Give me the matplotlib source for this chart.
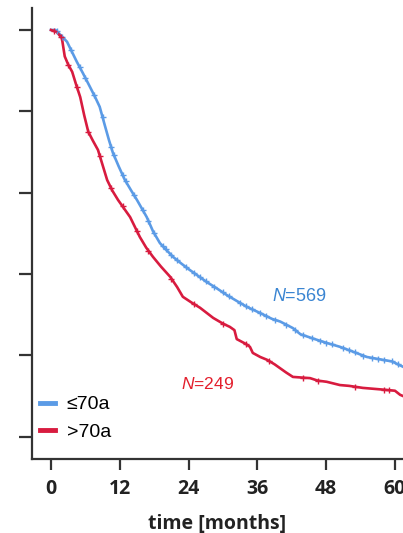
import numpy as np
import matplotlib
matplotlib.use("Agg")
import matplotlib.pyplot as plt

plt.rcParams["mathtext.fontset"] = "custom"
plt.rcParams["mathtext.it"] = "Liberation Sans:italic"
plt.rcParams["mathtext.rm"] = "Liberation Sans"

# ---- data ----
blue_t = [0, 0.8, 1.5, 2.8, 3.7, 4.5, 5.6, 6.8, 7.7, 8.5, 9.4, 10.1, 10.8, 11.8, 12.9,
          14.0, 15.0, 16.7, 17.8, 19.0, 20.2, 21.3, 22.8, 24.2, 25.7, 27.2, 29.0, 30.7,
          32.5, 34.2, 36.5, 38.5, 40.0, 42.2, 43.5, 46.0, 48.0, 50.4, 52.5, 55.1, 57.5,
          59.5, 60.5, 61.4]
blue_s = [1.0, 1.0, 0.99, 0.971, 0.945, 0.922, 0.893, 0.860, 0.835, 0.811, 0.765, 0.730,
          0.698, 0.665, 0.631, 0.605, 0.582, 0.540, 0.505, 0.476, 0.458, 0.442, 0.425,
          0.410, 0.395, 0.380, 0.364, 0.348, 0.333, 0.319, 0.304, 0.290, 0.283, 0.267,
          0.252, 0.240, 0.231, 0.221, 0.210, 0.196, 0.190, 0.185, 0.178, 0.172]

red_t = [0, 1.0, 1.9, 2.4, 3.0, 3.7, 4.4, 5.1, 5.8, 6.5, 7.3, 8.2, 9.0, 9.8, 10.7, 11.7,
         12.8, 13.8, 15.5, 16.6, 17.8, 19.2, 20.8, 22.0, 23.0, 24.5, 26.0, 28.3, 30.0,
         31.2, 32.0, 32.4, 34.0, 34.7, 35.2, 36.5, 37.7, 39.0, 39.9, 41.0, 42.2, 45.2,
         46.5, 48.1, 50.4, 52.0, 54.4, 58.6, 60.0, 60.9, 61.4]
red_s = [1.0, 0.995, 0.980, 0.935, 0.915, 0.897, 0.865, 0.835, 0.790, 0.750, 0.728, 0.705,
         0.668, 0.631, 0.605, 0.582, 0.560, 0.540, 0.491, 0.465, 0.442, 0.418, 0.393,
         0.368, 0.344, 0.330, 0.317, 0.292, 0.278, 0.270, 0.262, 0.240, 0.228, 0.221,
         0.206, 0.196, 0.189, 0.178, 0.169, 0.158, 0.147, 0.144, 0.138, 0.135, 0.127,
         0.125, 0.120, 0.115, 0.113, 0.103, 0.100]

blue_cens = [1, 2, 3.5, 5, 6, 7.5, 9, 10.5, 11, 12.5, 13, 14.5, 16, 17, 18, 19.5, 20,
             21, 22, 23.5, 25, 26, 27, 28.5, 30, 31, 33, 34, 35, 36.5, 37.5, 39, 41, 42.5,
             44, 45.5, 47, 48, 49, 51, 52, 53, 54.5, 56, 57, 58, 59.5, 60.5]
red_cens = [0.5, 1.8, 3, 4.5, 6.5, 8.5, 10.5, 12.5, 15, 17, 21, 25, 30, 34, 38, 44,
            46.5, 53, 58, 59]

labels = ["\u226470a", ">70a"]
n_labels = ["569", "249"]
xticks = [0, 12, 24, 36, 48, 60]
yticks = [0.0, 0.2, 0.4, 0.6, 0.8, 1.0]

blue_c = "#5b9be6"
red_c = "#d81b3f"
blue_txt = "#3a85d2"
red_txt = "#e31e2c"
axis_c = "#333333"

W, H = 403, 533
fig = plt.figure(figsize=(W / 100, H / 100), dpi=100)
ax = fig.add_axes([32 / W, 74 / H, (W - 32) / W, (459 - 8) / H])

ax.plot(blue_t, blue_s, color=blue_c, lw=1.9, label=labels[0])
ax.plot(red_t, red_s, color=red_c, lw=1.9, label=labels[1])
ax.plot(blue_cens, np.interp(blue_cens, blue_t, blue_s), ls="none", marker="+",
        ms=5, mew=1.0, color=blue_c)
ax.plot(red_cens, np.interp(red_cens, red_t, red_s), ls="none", marker="+",
        ms=5, mew=1.0, color=red_c)

ax.set_xlim(-3.31, 61.4)
ax.set_ylim(-0.0548, 1.054)

for s in ["top", "right"]:
    ax.spines[s].set_visible(False)
for s in ["left", "bottom"]:
    ax.spines[s].set_color(axis_c)
    ax.spines[s].set_linewidth(1.6)

ax.set_xticks(xticks)
ax.set_xticklabels([str(v) for v in xticks], fontfamily="Open Sans",
                   fontweight="bold", fontsize=14, color="#222222")
ax.set_yticks(yticks)
ax.set_yticklabels([])
ax.tick_params(axis="x", length=8, width=1.6, color=axis_c, pad=6.5)
ax.tick_params(axis="y", length=9.5, width=1.6, color=axis_c)

ax.set_xlabel("time [months]", fontfamily="Open Sans", fontweight="bold",
              fontsize=14, color="#222222", labelpad=10.5)

fig.text(299.5 / W, 1 - 296.5 / H, r"$\mathit{N}$=" + n_labels[0], color=blue_txt,
         fontsize=13, fontfamily="Liberation Sans", ha="center", va="center")
fig.text(208 / W, 1 - 384 / H, r"$\mathit{N}$=" + n_labels[1], color=red_txt,
         fontsize=12.5, fontfamily="Liberation Sans", ha="center", va="center")

leg = ax.legend(loc="upper left", bbox_to_anchor=(0.0216, 0.14), frameon=False,
                prop={"family": "Liberation Sans", "size": 14},
                handlelength=0.75, handletextpad=0.62, labelspacing=0.5,
                borderaxespad=0.0, borderpad=0.0)
for h in leg.get_lines():
    h.set_linewidth(3.5)

fig.savefig("out.png", dpi=100)
